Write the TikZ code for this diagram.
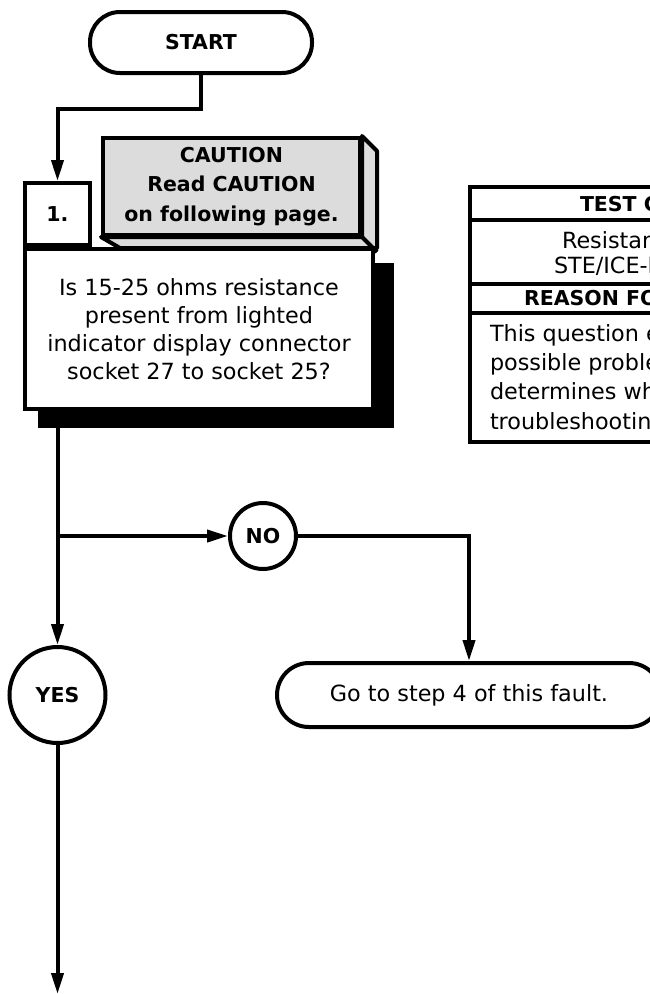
\documentclass[tikz,border=0pt]{standalone}
\usepackage{fontspec}
\setmainfont{DejaVu Sans}
\usepackage{xcolor}
\usetikzlibrary{shapes.geometric, arrows.meta, positioning}
\definecolor{cautiongray}{HTML}{DCDCDC}
\tikzset{
  plain/.style={font=\fontsize{22.3}{28}\selectfont},
  heavy/.style={font=\bfseries\fontsize{20.5}{29.5}\selectfont},
  terminal/.style={rectangle, draw, rounded corners=30pt, minimum width=222pt,
                   minimum height=61pt, inner sep=0pt, heavy},
  stepnum/.style={rectangle, draw, fill=white, minimum width=65pt,
                  minimum height=62pt, inner sep=0pt, heavy},
  question/.style={rectangle, draw, fill=white, minimum width=348pt,
                   minimum height=160pt, align=center, inner sep=0pt, plain},
  caution/.style={rectangle, draw, fill=cautiongray, minimum width=257pt,
                  minimum height=97pt, align=center, inner sep=0pt, heavy},
  answer/.style={circle, draw, fill=white, inner sep=0pt, heavy},
  result/.style={rectangle, draw, rounded corners=32pt, minimum width=384pt,
                 minimum height=64pt, inner sep=0pt, plain},
  cell/.style={anchor=west, inner sep=0pt},
  arrow/.style={-{Triangle[length=21pt, width=12pt]}}
}

\begin{document}
\begin{tikzpicture}[x=1pt, y=-1pt, line width=4pt]

  \clip (0,0) rectangle (650,994);

  \node[terminal] (start) at (201,42.5) {START};

  % step 1 with its shadow
  \node[question] (ques) at (199,329)
    {Is 15-25 ohms resistance\\present from lighted\\indicator display connector\\socket 27 to socket 25?};
  \fill[black] ([xshift=15pt, yshift=-16pt]ques.north west)
    rectangle ([xshift=19pt, yshift=-17pt]ques.south east);
  \node[question] at (ques) {Is 15-25 ohms resistance\\present from lighted\\indicator display connector\\socket 27 to socket 25?};
  \node[stepnum, anchor=south west] (num) at (ques.north west) {1.};

  \node[caution] (warn) at (231.5,186.5)
    {CAUTION\\Read CAUTION\\on following page.};
  \filldraw[fill=cautiongray, line join=round] (warn.north east) -- ++(15,15) -- ++(0,97)
    -- ++(-257,0) -- (warn.south west) -- (warn.south east) -- cycle;
  \draw (warn.south east) -- ++(15,15);

  % test conditions table
  \draw (470,187) rectangle (720,442);
  \draw (470,220) -- (720,220);
  \draw (470,284) -- (720,284);
  \draw (470,313) -- (720,313);
  \node[cell, heavy] (testhd) at (578,204) {TEST C};
  \node[cell, plain] (testl1) at (560,240) {Resistan};
  \node[cell, plain] (testl2) at (552,266) {STE/ICE-R};
  \node[cell, heavy] (reasonhd) at (522,298) {REASON FO};
  \node[cell, plain, align=left, font=\fontsize{22.3}{29.3}\selectfont] (reason) at (488,379)
    {This question e\\possible proble\\determines whe\\troubleshooting};

  \node[answer, minimum size=66pt] (no) at (263,536) {NO};
  \node[answer, minimum size=96pt] (yes) at (57.5,695) {YES};
  \node[result] (goto) at (469,695) {Go to step 4 of this fault.};
  \coordinate (exit) at (57.5,994);

  \draw[arrow] (start.south) -- ++(0,34) -| (num.north);
  \draw[arrow] (ques.south -| num.south) -- (yes.north);
  \draw[arrow] (no -| num.south) -- (no);
  \draw[arrow] (no) -| (goto.north);
  \draw[arrow] (yes) -- (exit);

\end{tikzpicture}
\end{document}
